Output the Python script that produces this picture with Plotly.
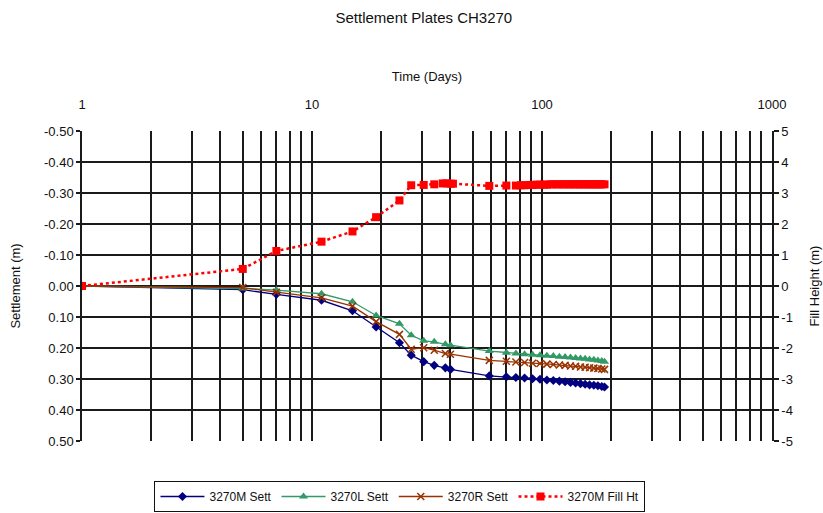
import plotly.graph_objects as go

# ---- data ----
days = [1, 5, 7, 11, 15, 19, 24, 27, 30.6, 34, 38, 40, 59, 70, 77, 84, 91, 98,
        105, 112, 119, 126, 133, 140, 147, 154, 161, 168, 175, 182, 187]
sett_M = [0.0, 0.012, 0.027, 0.046, 0.080, 0.132, 0.183, 0.223, 0.244, 0.256, 0.264,
          0.269, 0.290, 0.293, 0.295, 0.297, 0.299, 0.301, 0.303, 0.305, 0.307, 0.309,
          0.311, 0.313, 0.315, 0.317, 0.319, 0.320, 0.322, 0.324, 0.326]
sett_L = [0.0, 0.008, 0.013, 0.025, 0.051, 0.095, 0.122, 0.159, 0.177, 0.180, 0.188,
          0.191, 0.210, 0.215, 0.218, 0.220, 0.222, 0.223, 0.225, 0.226, 0.228, 0.229,
          0.231, 0.232, 0.234, 0.235, 0.237, 0.238, 0.240, 0.242, 0.244]
sett_R = [0.0, 0.005, 0.020, 0.038, 0.065, 0.115, 0.156, 0.204, 0.199, 0.207, 0.218,
          0.220, 0.240, 0.243, 0.245, 0.247, 0.249, 0.250, 0.252, 0.253, 0.255, 0.256,
          0.258, 0.259, 0.261, 0.262, 0.264, 0.265, 0.266, 0.268, 0.269]
fill_days = [1, 5, 7, 11, 15, 19, 24, 27, 30.6, 34, 37, 38.5, 40, 41, 59, 70, 77, 81,
             84, 88, 91, 95, 98, 102, 105, 109, 112, 116, 119, 123, 126, 130, 133, 137,
             140, 144, 147, 151, 154, 158, 161, 165, 168, 172, 175, 179, 182, 187]
fill_ht = [0.0, 0.55, 1.13, 1.43, 1.76, 2.22, 2.76, 3.25, 3.26, 3.28, 3.31, 3.31, 3.30,
           3.30, 3.23, 3.24, 3.24, 3.25, 3.25, 3.26, 3.26, 3.27, 3.27, 3.27, 3.27, 3.28,
           3.28, 3.28, 3.28, 3.28, 3.28, 3.28, 3.28, 3.28, 3.28, 3.28, 3.28, 3.28, 3.28,
           3.28, 3.28, 3.28, 3.28, 3.28, 3.28, 3.28, 3.28, 3.28]

x_ticks = [1, 10, 100, 1000]
x_minor = [m * d for d in (1, 10, 100) for m in range(2, 10)]
y_ticks = [-0.5, -0.4, -0.3, -0.2, -0.1, 0.0, 0.1, 0.2, 0.3, 0.4, 0.5]
y_text = ["-0.50", "-0.40", "-0.30", "-0.20", "-0.10", "0.00", "0.10", "0.20", "0.30", "0.40", "0.50"]
y2_ticks = [5, 4, 3, 2, 1, 0, -1, -2, -3, -4, -5]
y2_text = ["5", "4", "3", "2", "1", "0", "-1", "-2", "-3", "-4", "-5"]

FONT = "Liberation Sans, Arial, sans-serif"
GRID = "#1a1a1a"

fig = go.Figure()
fig.add_trace(go.Scatter(x=days, y=sett_M, name="3270M Sett", mode="lines+markers",
                         line=dict(color="#000080", width=1.3),
                         marker=dict(symbol="diamond", size=7, color="#000080")))
fig.add_trace(go.Scatter(x=days, y=sett_L, name="3270L Sett", mode="lines+markers",
                         line=dict(color="#339966", width=1.3),
                         marker=dict(symbol="triangle-up", size=8, color="#339966")))
fig.add_trace(go.Scatter(x=days, y=sett_R, name="3270R Sett", mode="lines+markers",
                         line=dict(color="#993300", width=1.3),
                         marker=dict(symbol="x-thin", size=7, color="#993300",
                                     line=dict(color="#993300", width=1.5))))
fig.add_trace(go.Scatter(x=fill_days, y=fill_ht, name="3270M Fill Ht", mode="lines+markers",
                         yaxis="y2",
                         line=dict(color="#FF0000", width=2.5, dash="dot"),
                         marker=dict(symbol="square", size=8, color="#FF0000")))

fig.update_layout(
    width=823, height=513,
    margin=dict(l=82, r=51, t=131, b=72),
    paper_bgcolor="white", plot_bgcolor="white",
    font=dict(family=FONT, size=13, color="#111"),
    title=dict(text="Settlement Plates CH3270", x=0.515, xanchor="center",
               y=0.965, yanchor="middle", font=dict(size=15, family=FONT, color="#111")),
    xaxis=dict(type="log", range=[0, 3], side="top", automargin=False,
               tickmode="array", tickvals=x_ticks, ticktext=[str(v) for v in x_ticks],
               showgrid=True, gridcolor=GRID, gridwidth=1.5,
               minor=dict(tickmode="array", tickvals=x_minor, showgrid=True,
                          gridcolor=GRID, gridwidth=1.5, ticks=""),
               ticks="", zeroline=False, showline=False, ticklabelstandoff=18,
               title=dict(text="Time (Days)", font=dict(size=13), standoff=12),
               tickfont=dict(size=13)),
    yaxis=dict(range=[0.5, -0.5], tickmode="array", tickvals=y_ticks, ticktext=y_text,
               automargin=False,
               showgrid=True, gridcolor=GRID, gridwidth=1.5, zeroline=False,
               showline=True, linecolor=GRID, linewidth=1.5,
               ticks="outside", ticklen=4, tickcolor=GRID, tickwidth=1.5,
               title=dict(text="Settlement (m)", font=dict(size=13), standoff=20),
               tickfont=dict(size=13)),
    yaxis2=dict(range=[-5, 5], overlaying="y", side="right", tickmode="array",
                automargin=False,
                tickvals=y2_ticks, ticktext=y2_text, showgrid=False, zeroline=False,
                showline=True, linecolor=GRID, linewidth=1.5,
                ticks="outside", ticklen=5, tickcolor=GRID, tickwidth=1.5,
                title=dict(text="Fill Height (m)", font=dict(size=13), standoff=18),
                tickfont=dict(size=13)),
    legend=dict(orientation="h", x=0.486, xanchor="center", xref="container",
                y=1 - 481 / 513, yanchor="top", yref="container",
                bordercolor="#111", borderwidth=1, font=dict(size=12, family=FONT),
                itemwidth=44, tracegroupgap=0),
    showlegend=True,
)

fig.write_html("out.html")
